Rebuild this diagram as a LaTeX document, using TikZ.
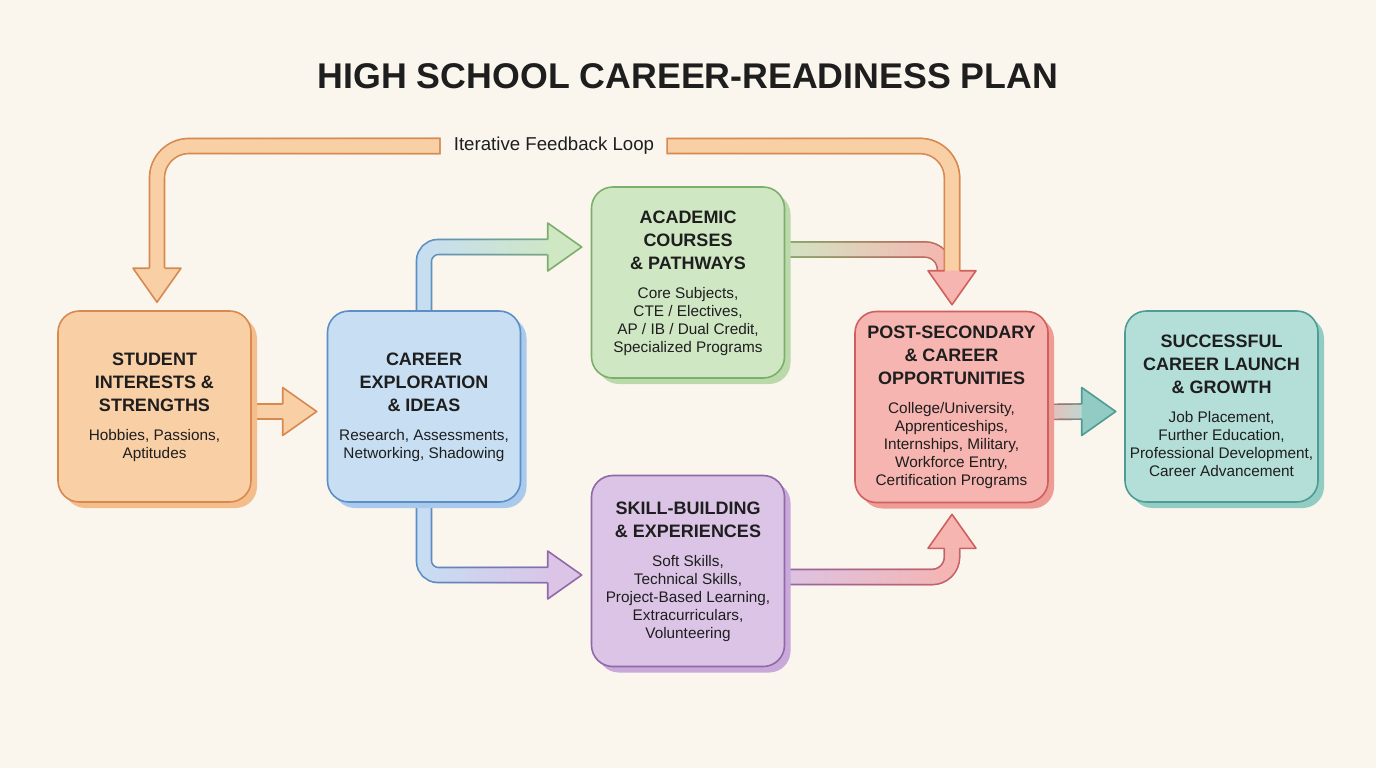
\documentclass[tikz,border=0pt]{standalone}
\usepackage{fontspec}
\setmainfont{Liberation Sans}
\usepackage{tikz}
\usetikzlibrary{positioning,calc,fadings}

\definecolor{bgcream}{HTML}{FAF6EE}
\definecolor{inkdark}{HTML}{1E1E1E}
\definecolor{orfill}{HTML}{F9CFA6}
\definecolor{orline}{HTML}{D8894F}
\definecolor{orshade}{HTML}{F4BE8C}
\definecolor{blfill}{HTML}{C7DEF3}
\definecolor{blline}{HTML}{5D8EC6}
\definecolor{blshade}{HTML}{A9CAEC}
\definecolor{grfill}{HTML}{D0E7C4}
\definecolor{grline}{HTML}{7DAF6C}
\definecolor{grshade}{HTML}{BCD9AB}
\definecolor{pufill}{HTML}{DCC4E7}
\definecolor{puline}{HTML}{9168A8}
\definecolor{pushade}{HTML}{C9A9DA}
\definecolor{rdfill}{HTML}{F6B5B0}
\definecolor{rdline}{HTML}{CF605D}
\definecolor{rdshade}{HTML}{EE9C96}
\definecolor{tefill}{HTML}{B4DFD8}
\definecolor{teline}{HTML}{4E9C93}
\definecolor{teshade}{HTML}{93CCC3}
\definecolor{tehead}{HTML}{92CBC3}

\newcommand{\boxhead}[1]{{\fontsize{13.5}{17.25}\selectfont\bfseries\begin{tabular}{@{}c@{}}#1\end{tabular}}}
\newcommand{\boxsub}[1]{{\fontsize{11.5}{13.5}\selectfont\begin{tabular}{@{}c@{}}#1\end{tabular}}}

\pgfdeclarelayer{behind}
\pgfsetlayers{behind,main}

\tikzset{
  stage/.style n args={3}{draw=#2, fill=#1, line width=1.2pt, rounded corners=16pt,
    minimum width=144.75pt, minimum height=143.25pt, inner sep=0pt, align=center, text=inkdark,
    preaction={fill=#3, transform canvas={xshift=4.5pt, yshift=-4.5pt}}},
  pipe/.style n args={4}{draw=#1, line width=10pt, rounded corners=10.5pt, shorten <=1.2pt,
    preaction={draw=#2, line width=12.5pt, shorten <=0pt},
    preaction={draw=#4, line width=12.5pt, shorten <=0pt, path fading=west},
    postaction={draw=#3, line width=10pt, shorten <=1.2pt, path fading=west}},
  pics/tip/.style n args={2}{code={
    \fill[#1] (-34,-24) -- (0,0) -- (-34,24) -- cycle;
    \draw[#2, line width=1.2pt, line join=round] (-34,-7.5) -- (-34,-24) -- (0,0) -- (-34,24) -- (-34,7.5);
  }},
}

\begin{document}
\begin{tikzpicture}[x=0.75pt,y=0.75pt,yscale=-1,xscale=1]
\useasboundingbox (0,0) rectangle (1376,768);

% Text Node
\node[text=inkdark] (title) at (688,76) {\fontsize{26.8}{32}\selectfont\bfseries HIGH SCHOOL CAREER-READINESS PLAN};
% Text Node
\node[text=inkdark, inner sep=0pt] (loop) at (554,146) {\fontsize{14}{16}\selectfont Iterative Feedback Loop};

%Shape: Rounded boxes
\node[stage={orfill}{orline}{orshade}] (student) at (154.5,406.5)
  {\boxhead{STUDENT\\INTERESTS \&\\STRENGTHS}\\[6pt]\boxsub{Hobbies, Passions,\\Aptitudes}};
\node[stage={blfill}{blline}{blshade}] (career) at (424,406.5)
  {\boxhead{CAREER\\EXPLORATION\\\& IDEAS}\\[6pt]\boxsub{Research, Assessments,\\Networking, Shadowing}};
\node[stage={grfill}{grline}{grshade}] (academic) at (688,282.5)
  {\boxhead{ACADEMIC\\COURSES\\\& PATHWAYS}\\[6pt]\boxsub{Core Subjects,\\CTE / Electives,\\AP / IB / Dual Credit,\\Specialized Programs}};
\node[stage={pufill}{puline}{pushade}] (skill) at (688,571)
  {\boxhead{SKILL-BUILDING\\\& EXPERIENCES}\\[6pt]\boxsub{Soft Skills,\\Technical Skills,\\Project-Based Learning,\\Extracurriculars,\\Volunteering}};
\node[stage={rdfill}{rdline}{rdshade}] (post) at (951.5,407)
  {\boxhead{POST-SECONDARY\\\& CAREER\\OPPORTUNITIES}\\[6pt]\boxsub{College/University,\\Apprenticeships,\\Internships, Military,\\Workforce Entry,\\Certification Programs}};
\node[stage={tefill}{teline}{teshade}] (launch) at (1221.5,406.5)
  {\boxhead{SUCCESSFUL\\CAREER LAUNCH\\\& GROWTH}\\[6pt]\boxsub{Job Placement,\\Further Education,\\Professional Development,\\Career Advancement}};

% arrow tips
\coordinate (tSC) at ($(career.west)+(-10,5)$);
\coordinate (tCA) at ($(academic.west)+(-9,-35.5)$);
\coordinate (tCS) at ($(skill.west)+(-9,4)$);
\coordinate (tAP) at ($(post.north)+(0.5,-6)$);
\coordinate (tSP) at ($(post.south)+(0.5,11)$);
\coordinate (tPL) at ($(launch.west)+(-8.5,5)$);
\coordinate (tFB) at ($(student.north)+(2.5,-8)$);

\begin{pgfonlayer}{behind}
\fill[bgcream] (0,0) rectangle (1376,768);
%Straight Lines: student to career
\draw[pipe={orfill}{orline}{orfill}{orline}] ($(student.east)+(-6,5)$) -- ($(tSC)+(-30,0)$);
%Curve Lines: career to academic
\draw[pipe={blfill}{blline}{grfill}{grline}] ($(career.north)+(0,6)$) |- ($(tCA)+(-30,0)$);
%Curve Lines: career to skill
\draw[pipe={blfill}{blline}{pufill}{puline}] ($(career.south)+(0,-6)$) |- ($(tCS)+(-30,0)$);
%Curve Lines: academic to post
\draw[pipe={grfill}{grline}{rdfill}{rdline}, rounded corners=15pt] ($(academic.east)+(-6,-33)$) -| ($(tAP)+(-7,-30)$);
%Curve Lines: skill to post
\draw[pipe={pufill}{puline}{rdfill}{rdline}, rounded corners=15pt] ($(skill.east)+(-6,6)$) -| ($(tSP)+(0,30)$);
%Straight Lines: post to launch
\draw[pipe={rdfill}{rdline}{tefill}{teline}] ($(post.east)+(-6,5)$) -- ($(tPL)+(-30,0)$);
%Curve Lines: feedback loop
\draw[pipe={orfill}{orline}{orfill}{orline}, rounded corners=24pt] ($(loop.east)+(12,0)$) -| ($(tAP)+(0,-30)$);
\draw[pipe={orfill}{orline}{orfill}{orline}, rounded corners=24pt] ($(loop.west)+(-13,0)$) -| ($(tFB)+(0,-30)$);
\end{pgfonlayer}

% heads
\pic at (tSC) {tip={orfill}{orline}};
\pic at (tCA) {tip={grfill}{grline}};
\pic at (tCS) {tip={pufill}{puline}};
\pic[rotate=-90] at (tAP) {tip={rdfill}{rdline}};
\pic[rotate=90] at (tSP) {tip={rdfill}{rdline}};
\pic at (tPL) {tip={tehead}{teline}};
\pic[rotate=-90] at (tFB) {tip={orfill}{orline}};

\end{tikzpicture}
\end{document}
